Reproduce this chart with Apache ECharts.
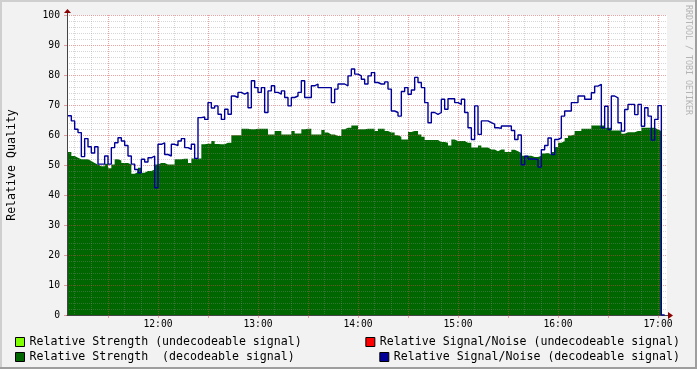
<!DOCTYPE html>
<html><head><meta charset="utf-8">
<script src="https://cdn.jsdelivr.net/npm/echarts@6/dist/echarts.min.js"></script>
<style>html,body{margin:0;padding:0;background:#f2f2f2}#c{width:697px;height:369px}</style>
</head><body><div id="c"></div>
<script>
// ---- data ----
const START_TIME = '11:06';      // time of the first sample
const STEP_MINUTES = 2;          // sample spacing
const VIEW_START = '11:05:24';
const VIEW_END = '17:05:24';

const snrDecodeable = [
66.4, 66.4, 64.7, 61.9, 60.8, 52.8, 58.8, 56.1, 54.0, 56.1,
50.3, 50.3, 53.0, 50.3, 55.8, 57.4, 59.1, 58.0, 56.5, 53.0,
50.3, 48.5, 47.4, 51.9, 51.0, 52.4, 53.0, 42.4, 56.9, 57.4,
53.5, 53.0, 56.9, 56.5, 58.0, 58.8, 55.8, 55.2, 56.9, 52.2,
65.8, 66.0, 65.2, 70.8, 69.0, 69.7, 66.9, 65.2, 68.6, 66.9,
73.0, 72.5, 74.2, 73.6, 74.2, 69.1, 78.1, 75.8, 74.2, 75.8,
67.5, 74.7, 76.4, 74.2, 73.6, 74.7, 72.5, 69.7, 72.5, 73.0,
74.2, 78.1, 72.5, 72.5, 76.4, 77.0, 75.8, 75.8, 75.8, 75.8,
70.8, 75.3, 77.0, 77.0, 76.4, 79.7, 82.0, 80.3, 79.7, 78.6,
77.0, 79.7, 80.8, 77.5, 77.0, 77.0, 77.7, 75.3, 68.0, 67.5,
66.3, 74.5, 75.8, 73.6, 75.0, 79.2, 77.5, 75.8, 70.8, 64.1,
67.5, 66.9, 67.5, 71.9, 68.6, 72.1, 72.1, 70.8, 70.2, 71.9,
67.5, 62.4, 58.5, 69.7, 60.2, 64.7, 64.7, 64.1, 63.6, 62.4,
62.2, 63.0, 63.0, 63.0, 61.5, 58.5, 60.0, 50.1, 52.9, 52.0,
52.0, 51.8, 49.3, 55.1, 56.5, 59.0, 53.5, 58.5, 59.0, 66.3,
68.0, 68.0, 70.8, 70.8, 73.0, 73.0, 71.9, 71.9, 74.1, 76.3,
76.9, 62.4, 69.6, 61.8, 73.0, 72.4, 64.1, 61.3, 68.5, 70.2,
70.2, 66.8, 70.2, 62.9, 69.1, 66.3, 58.3, 65.2, 69.8, 0
];

const strengthDecodeable = [
54.3, 54.3, 53.0, 52.4, 51.9, 51.9, 51.9, 51.3, 50.7, 50.2,
49.6, 49.6, 50.4, 48.9, 50.2, 51.9, 51.5, 50.7, 50.7, 50.2,
47.1, 47.7, 49.1, 47.4, 48.0, 48.0, 48.5, 50.2, 50.7, 50.7,
50.2, 50.2, 50.2, 51.9, 51.9, 52.1, 52.1, 50.7, 52.2, 52.2,
52.2, 56.9, 57.1, 57.1, 58.0, 57.0, 56.9, 56.9, 57.4, 57.4,
59.9, 59.9, 59.9, 62.1, 62.1, 61.9, 61.9, 62.1, 62.1, 62.1,
62.1, 60.2, 60.2, 61.3, 61.3, 60.2, 60.2, 60.2, 61.3, 60.5,
60.5, 61.9, 62.1, 62.1, 60.2, 60.2, 60.2, 61.7, 60.8, 60.2,
60.2, 59.7, 59.7, 61.9, 62.4, 62.4, 63.2, 63.2, 61.9, 61.9,
62.1, 62.1, 62.1, 61.3, 62.1, 62.1, 61.3, 60.8, 60.8, 59.9,
59.4, 58.5, 58.5, 61.0, 61.3, 61.3, 60.2, 59.4, 58.3, 58.3,
58.3, 58.3, 57.7, 57.7, 57.4, 56.5, 58.5, 58.0, 58.0, 58.0,
57.4, 57.4, 55.8, 55.8, 56.5, 55.8, 55.8, 55.2, 55.2, 54.6,
55.2, 55.2, 54.3, 54.3, 55.1, 54.6, 54.0, 53.1, 53.1, 53.1,
52.7, 52.7, 53.1, 53.8, 54.0, 53.5, 54.3, 56.0, 57.4, 57.9,
59.0, 59.8, 60.2, 61.3, 61.3, 62.1, 62.1, 62.1, 63.2, 63.2,
63.2, 63.2, 62.4, 62.4, 61.5, 61.5, 61.5, 60.4, 60.9, 60.9,
60.9, 61.3, 61.3, 62.4, 62.4, 62.4, 62.4, 61.8, 61.3, null
];

const strengthUndecodeable = [];
const snrUndecodeable = [];

const xLabelTimes = ['12:00', '13:00', '14:00', '15:00', '16:00', '17:00'];
const yTickValues = [0, 10, 20, 30, 40, 50, 60, 70, 80, 90, 100];

const seriesNames = [
  'Relative Strength (undecodeable signal)',
  'Relative Strength  (decodeable signal)',
  'Relative Signal/Noise (undecodeable signal)',
  'Relative Signal/Noise (decodeable signal)'
];

// ---- helpers ----
function toMin(s) { const p = s.split(':').map(Number); return p[0] * 60 + p[1] + (p[2] || 0) / 60; }
function fmt(v) { const h = Math.floor(v / 60), m = Math.round(v - h * 60); return String(h).padStart(2, '0') + ':' + String(m).padStart(2, '0'); }
const t0 = toMin(START_TIME);
const times = snrDecodeable.map((_, i) => t0 + i * STEP_MINUTES);
const vs = toMin(VIEW_START), ve = toMin(VIEW_END);
const majorTimes = [], minorTimes = [];
for (let m = Math.ceil(vs / 10) * 10; m <= ve; m += 10) { (m % 30 === 0 ? majorTimes : minorTimes).push(m); }
const labelTimes = xLabelTimes.map(toMin);

const MONO = 'DejaVu Sans Mono';
const GRID_MINOR = 'rgba(140,140,140,0.36)';
const GRID_MAJOR = 'rgba(215,70,70,0.50)';

const chart = echarts.init(document.getElementById('c'), null, { renderer: 'canvas' });
const legendCommon = {
  padding: 0, itemWidth: 9, itemHeight: 9, icon: 'rect', selectedMode: false,
  itemStyle: { borderColor: '#000', borderWidth: 1 },
  textStyle: { fontFamily: MONO, fontSize: 11.6, color: '#000' }
};
chart.setOption({
  backgroundColor: '#f2f2f2',
  animation: false,
  grid: { left: 67, top: 15, width: 600, height: 300, show: true, backgroundColor: '#ffffff', borderWidth: 0,
          containLabel: false, outerBoundsMode: 'none' },
  xAxis: [
    {
      type: 'value', min: vs, max: ve, position: 'bottom', z: 3,
      axisLine: { show: false },
      axisTick: { show: false, customValues: minorTimes },
      axisLabel: { show: false },
      splitLine: { show: true, lineStyle: { color: GRID_MINOR, type: [1, 1], width: 1 } }
    },
    {
      type: 'value', min: vs, max: ve, position: 'bottom', z: 3,
      axisLine: { show: true, onZero: false, lineStyle: { color: '#444', width: 1 } },
      axisTick: { show: true, customValues: majorTimes, length: 3, lineStyle: { color: GRID_MAJOR } },
      axisLabel: { customValues: labelTimes, formatter: fmt, fontFamily: MONO, fontSize: 9.7, color: '#000', margin: 4 },
      splitLine: { show: true, lineStyle: { color: GRID_MAJOR, type: [1, 1], width: 1 } }
    }
  ],
  yAxis: {
    type: 'value', min: yTickValues[0], max: yTickValues[yTickValues.length - 1], interval: 10, z: 3,
    axisLine: { show: true, lineStyle: { color: '#444', width: 1 } },
    axisTick: { show: true, length: 3, lineStyle: { color: GRID_MAJOR } },
    axisLabel: { fontFamily: MONO, fontSize: 9.7, color: '#000', margin: 7 },
    splitLine: { show: true, lineStyle: { color: GRID_MAJOR, type: [1, 1], width: 1 } },
    minorTick: { show: false, splitNumber: 5 },
    minorSplitLine: { show: true, lineStyle: { color: GRID_MINOR, type: [1, 1], width: 1 } },
    name: 'Relative Quality', nameLocation: 'middle', nameGap: 49,
    nameTextStyle: { fontFamily: MONO, fontSize: 11.6, color: '#000' }
  },
  legend: [
    Object.assign({ data: [seriesNames[0]], left: 15, top: 336 }, legendCommon),
    Object.assign({ data: [seriesNames[1]], left: 15, top: 351 }, legendCommon),
    Object.assign({ data: [seriesNames[2]], right: 17, top: 336 }, legendCommon),
    Object.assign({ data: [seriesNames[3]], right: 17, top: 351 }, legendCommon)
  ],
  series: [
    { name: seriesNames[0], type: 'line', xAxisIndex: 1, color: '#80ff00', symbol: 'none',
      data: strengthUndecodeable.map((v, i) => [times[i], v]) },
    { name: seriesNames[1], type: 'line', xAxisIndex: 1, step: 'start', color: '#006600', symbol: 'none', z: 2,
      lineStyle: { width: 0 }, areaStyle: { color: '#006600', opacity: 1 },
      data: strengthDecodeable.map((v, i) => [times[i], v]) },
    { name: seriesNames[2], type: 'line', xAxisIndex: 1, color: '#ff0000', symbol: 'none',
      data: snrUndecodeable.map((v, i) => [times[i], v]) },
    { name: seriesNames[3], type: 'line', xAxisIndex: 1, step: 'start', color: '#000099', symbol: 'none', z: 5,
      lineStyle: { width: 1.4, color: '#000099' },
      data: snrDecodeable.map((v, i) => [times[i], v]) }
  ],
  graphic: [
    { type: 'rect', shape: { x: 0, y: 0, width: 697, height: 2 }, style: { fill: '#cfcfcf' }, silent: true },
    { type: 'rect', shape: { x: 0, y: 0, width: 2, height: 369 }, style: { fill: '#cfcfcf' }, silent: true },
    { type: 'rect', shape: { x: 695, y: 0, width: 2, height: 369 }, style: { fill: '#9e9e9e' }, silent: true },
    { type: 'rect', shape: { x: 0, y: 367, width: 697, height: 2 }, style: { fill: '#9e9e9e' }, silent: true },
    { type: 'line', shape: { x1: 67.5, y1: 15, x2: 67.5, y2: 12 }, style: { stroke: '#444', lineWidth: 1 }, silent: true },
    { type: 'line', shape: { x1: 667, y1: 315.5, x2: 669, y2: 315.5 }, style: { stroke: '#444', lineWidth: 1 }, silent: true },
    { type: 'polygon', shape: { points: [[64, 13], [71, 13], [67.5, 9]] }, style: { fill: '#8b0000' }, silent: true },
    { type: 'polygon', shape: { points: [[668, 312], [668, 319], [673, 315.5]] }, style: { fill: '#8b0000' }, silent: true },
    { type: 'text', x: 692, y: 5, rotation: -Math.PI / 2, silent: true,
      style: { text: 'RRDTOOL / TOBI OETIKER', fontFamily: MONO, fontSize: 8.3, fill: '#b4b4b4', align: 'left', verticalAlign: 'top' } }
  ]
});
</script></body></html>
